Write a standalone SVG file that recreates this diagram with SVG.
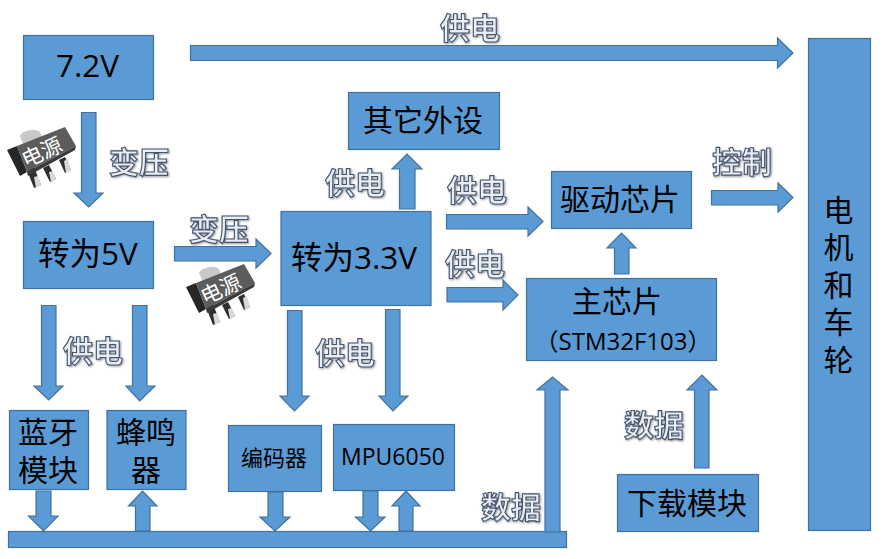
<svg xmlns="http://www.w3.org/2000/svg" width="887" height="559" viewBox="0 0 887 559">
<style>
.b{fill:#5B9BD5;stroke:#41719C;stroke-width:1.2}
.t{font-family:"Open Sans","Noto Sans CJK SC",sans-serif;font-size:30px;fill:#000;text-anchor:middle}
.w{font-size:31.500px}
.m{font-family:"Liberation Sans","Noto Sans CJK SC",sans-serif}
.l{font-family:"Noto Sans CJK SC",sans-serif;font-size:30px;font-weight:700;fill:#e9edf4;stroke:#44546A;stroke-width:1.1;text-anchor:middle;filter:url(#s)}
.c{font-family:"Noto Sans CJK SC",sans-serif;font-size:21px;fill:#fff;text-anchor:middle}
</style>
<defs>
<filter id="s" x="-20%" y="-20%" width="140%" height="140%"><feDropShadow dx="1" dy="1" stdDeviation="1" flood-color="#44546A" flood-opacity=".6"/></filter>
<g id="chip">
<path d="M27 170L34 188L41 185L34 167Z" fill="#2e2e2e"/><path d="M34 177L36 188L41 185L38 176Z" fill="#d9d9d9"/>
<path d="M43 168L50 182L56 179L49 165Z" fill="#2e2e2e"/><path d="M49 172L51 182L56 179L53 171Z" fill="#d9d9d9"/>
<path d="M59 160L65 173L71 170L65 157Z" fill="#2e2e2e"/><path d="M64 161L66 173L71 170L68 159Z" fill="#d9d9d9"/>
<path d="M20 136Q21 132 30 130Q39 129 41 134L42 138L24 146Z" fill="#c9c9c9"/>
<path d="M7 150L17 146L27 172L20 176Z" fill="#262626"/>
<path d="M17 146L65 127L76 146L27 172Z" fill="#5c5c5c"/>
<path d="M27 172L76 146L75 150L28 176Z" fill="#3a3a3a"/>
</g>
</defs>
<g id="connectors">
<path class="b" d="M190.500 45.500H777.500V38L793 53L777.500 68V60.500H190.500Z"/>
<path class="b" d="M81.500 112.500H96V193H103L88.700 207L74 193H81.500Z"/>
<path class="b" d="M174.500 246.500H256V239L271 253.500L256 268V261H174.500Z"/>
<path class="b" d="M41.500 305.500H56V386H63L48.700 400L34 386H41.500Z"/>
<path class="b" d="M132.500 305.500H147V386H155L139.700 401L126 386H132.500Z"/>
<path class="b" d="M287.500 310.500H302V396H309L294.500 411L280 396H287.500Z"/>
<path class="b" d="M385.500 309.500H400V396H408L393 411L379 396H385.500Z"/>
<path class="b" d="M399.500 209H415V169H422L407 154L392 169H399.500Z"/>
<path class="b" d="M446.500 214.500H528V207L543 221.500L528 236V229H446.500Z"/>
<path class="b" d="M447 287.500H503V280L518 295L503 310V302H447Z"/>
<path class="b" d="M711.500 190.500H778V183L793 197.500L778 212V205H711.500Z"/>
<path class="b" d="M614.500 274H629V248H636L621.500 233L607 248H614.500Z"/>
<path class="b" d="M694.500 468H709V390H717L702 375L687 390H694.500Z"/>
<path class="b" d="M36 491H51V516H58L43.500 531L28.500 516H36Z"/>
<path class="b" d="M135.500 531V506H128.500L142.500 491L157 506H150V531Z"/>
<path class="b" d="M268 492H283V517H290L275 531L260 517H268Z"/>
<path class="b" d="M363 491H378V517H385L370.500 531L355.500 517H363Z"/>
<path class="b" d="M399 531V506H392L406 491L420 506H413V531Z"/>
<rect class="b" x="8.500" y="531.500" width="558" height="16"/>
<path class="b" d="M545 532V390H537L552.500 377L568 390H560V532Z"/>
</g>
<g id="power"><rect class="b" x="23.500" y="35.500" width="130" height="64"/><text class="t w" x="87.500" y="77">7.2V</text></g>
<g id="conv5"><rect class="b" x="23.500" y="221.500" width="130" height="67"/><text class="t w" x="88" y="265">转为5V</text></g>
<g id="conv33"><rect class="b" x="281" y="211.500" width="150" height="94"/><text class="t w" x="354" y="269">转为3.3V</text></g>
<g id="other"><rect class="b" x="348.500" y="92.500" width="151" height="57"/><text class="t" x="423" y="131">其它外设</text></g>
<g id="driver"><rect class="b" x="551.500" y="171.500" width="140" height="57"/><text class="t" x="620" y="210">驱动芯片</text></g>
<g id="mcu"><rect class="b" x="526.500" y="278.500" width="190" height="82"/><text class="t" x="617" y="312">主芯片</text><text class="t" x="623" y="350" style="font-size:24px">（STM32F103）</text></g>
<g id="download"><rect class="b" x="617.500" y="474.500" width="141" height="57"/><text class="t" x="687" y="514">下载模块</text></g>
<g id="motor"><rect class="b" x="808.500" y="38.500" width="62" height="492"/><text class="t m" x="838.500" y="221">电</text><text class="t m" x="838.500" y="258">机</text><text class="t m" x="838.500" y="296">和</text><text class="t m" x="838.500" y="333">车</text><text class="t m" x="838.500" y="371">轮</text></g>
<g id="bt"><rect class="b" x="9.500" y="410.500" width="79" height="79"/><text class="t m" x="48" y="443">蓝牙</text><text class="t m" x="48" y="481">模块</text></g>
<g id="buzzer"><rect class="b" x="107" y="410.500" width="79" height="79"/><text class="t m" x="146" y="443">蜂鸣</text><text class="t m" x="146" y="481">器</text></g>
<g id="encoder"><rect class="b" x="228.500" y="425.500" width="93" height="66"/><text class="t" x="274" y="466" style="font-size:22px">编码器</text></g>
<g id="mpu"><rect class="b" x="333.500" y="424.500" width="121" height="66"/><text class="t" x="393" y="465" style="font-size:23px">MPU6050</text></g>
<g id="chip1"><use href="#chip"/><text class="c" transform="translate(45 159) rotate(-25)">电源</text></g>
<g id="chip2"><use href="#chip" transform="translate(179 137)"/><text class="c" transform="translate(224 296) rotate(-25)">电源</text></g>
<g id="labels">
<text class="l" x="470" y="39">供电</text>
<text class="l" x="139" y="173">变压</text>
<text class="l" x="219" y="240">变压</text>
<text class="l" x="355" y="194">供电</text>
<text class="l" x="477" y="201">供电</text>
<text class="l" x="475" y="275">供电</text>
<text class="l" x="742" y="173">控制</text>
<text class="l" x="93" y="362">供电</text>
<text class="l" x="345" y="364">供电</text>
<text class="l" x="654" y="436">数据</text>
<text class="l" x="511" y="518">数据</text>
</g>
</svg>
